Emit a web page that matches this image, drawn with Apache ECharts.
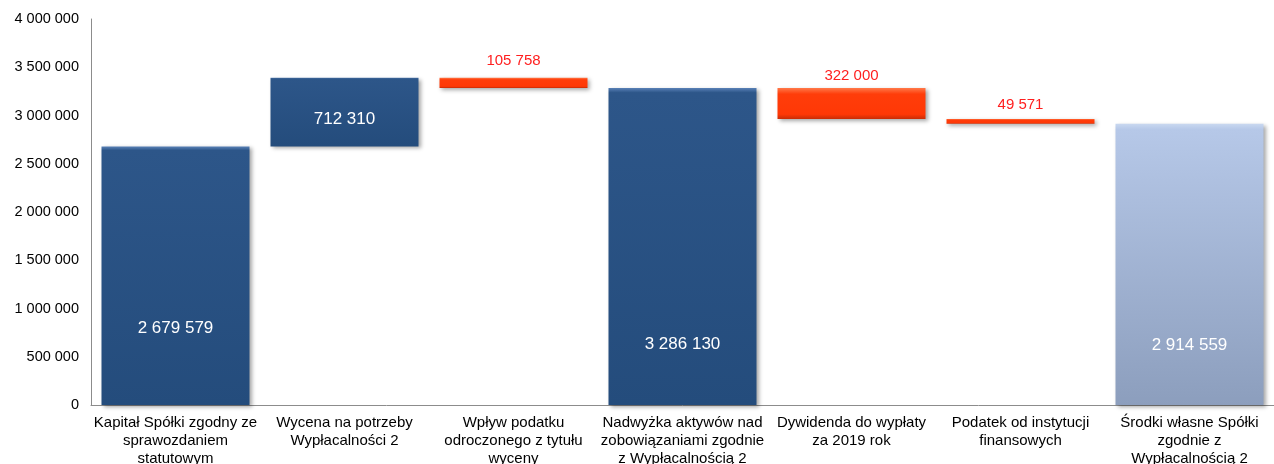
<!DOCTYPE html>
<html>
<head>
<meta charset="utf-8">
<script src="https://cdn.jsdelivr.net/npm/echarts@6/dist/echarts.min.js"></script>
<style>
  html, body { margin: 0; padding: 0; background: #fff; }
  #chart { width: 1274px; height: 464px; }
</style>
</head>
<body>
<div id="chart"></div>
<script>
// categories and values
const categories = [
  'Kapitał Spółki zgodny ze\nsprawozdaniem\nstatutowym',
  'Wycena na potrzeby\nWypłacalności 2',
  'Wpływ podatku\nodroczonego z tytułu\nwyceny',
  'Nadwyżka aktywów nad\nzobowiązaniami zgodnie\nz Wypłacalnością 2',
  'Dywidenda do wypłaty\nza 2019 rok',
  'Podatek od instytucji\nfinansowych',
  'Środki własne Spółki\nzgodnie z\nWypłacalnością 2'
]
const baseValues = [0, 2679579, 3286131, 0, 2964130, 2914559, 0]
const barValues = [2679579, 712310, 105758, 3286130, 322000, 49571, 2914559]
const kinds = ['total', 'up', 'down', 'total', 'down', 'down', 'final']
const yTicks = { min: 0, max: 4000000, step: 500000 }

function fmt(v) {
  return String(Math.round(v)).replace(/\B(?=(\d{3})+(?!\d))/g, ' ')
}

const font = 'Liberation Sans, Arial, sans-serif'

const blueFill = new echarts.graphic.LinearGradient(0, 0, 0, 1, [
  { offset: 0, color: '#5a82b8' },
  { offset: 0.015, color: '#2d5689' },
  { offset: 1, color: '#244c7c' }
])
const finalFill = new echarts.graphic.LinearGradient(0, 0, 0, 1, [
  { offset: 0, color: '#c9d8f0' },
  { offset: 0.02, color: '#b6c8e8' },
  { offset: 1, color: '#8c9ebd' }
])
const redFill = new echarts.graphic.LinearGradient(0, 0, 0, 1, [
  { offset: 0, color: '#ff7a4a' },
  { offset: 0.2, color: '#ff3d0a' },
  { offset: 0.85, color: '#ff3806' },
  { offset: 1, color: '#c92c06' }
])

// label distance from the bar edge (bottom for blue bars, top for red)
const labelDist = [68, 19, 9, 52, 5, 7, 51]

const barData = barValues.map((v, i) => {
  const k = kinds[i]
  const item = { value: v, itemStyle: {}, label: {} }
  if (k === 'down') {
    item.itemStyle.color = redFill
    item.label = { position: 'top', distance: labelDist[i], color: '#ff1f1f', fontSize: 15 }
  } else {
    item.itemStyle.color = k === 'final' ? finalFill : blueFill
    item.label = { position: 'insideBottom', distance: labelDist[i], color: '#fff', fontSize: 17 }
  }
  return item
})

const chart = echarts.init(document.getElementById('chart'))
chart.setOption({
  animation: false,
  textStyle: { fontFamily: font },
  grid: { left: 91, right: 0, top: 19, bottom: 59, outerBoundsMode: 'none', containLabel: false },
  xAxis: {
    type: 'category',
    data: categories,
    axisLine: { lineStyle: { color: '#8c8c8c', width: 1 } },
    axisTick: { show: false },
    axisLabel: {
      interval: 0,
      color: '#000',
      fontSize: 15,
      lineHeight: 18,
      margin: 9,
      fontFamily: font
    }
  },
  yAxis: {
    type: 'value',
    min: yTicks.min,
    max: yTicks.max,
    interval: yTicks.step,
    axisLine: { show: true, lineStyle: { color: '#8c8c8c', width: 1 } },
    axisTick: { show: false },
    splitLine: { show: false },
    axisLabel: {
      color: '#000',
      fontSize: 14.5,
      margin: 12,
      formatter: fmt,
      fontFamily: font
    }
  },
  series: [
    {
      type: 'bar',
      stack: 'w',
      barWidth: 148,
      itemStyle: { color: 'transparent' },
      silent: true,
      data: baseValues
    },
    {
      type: 'bar',
      stack: 'w',
      barWidth: 148,
      itemStyle: {
        shadowBlur: 4,
        shadowColor: 'rgba(0,0,0,0.35)',
        shadowOffsetX: 2,
        shadowOffsetY: 2
      },
      label: {
        show: true,
        formatter: p => fmt(p.value),
        fontFamily: font
      },
      data: barData
    }
  ]
})
</script>
</body>
</html>
